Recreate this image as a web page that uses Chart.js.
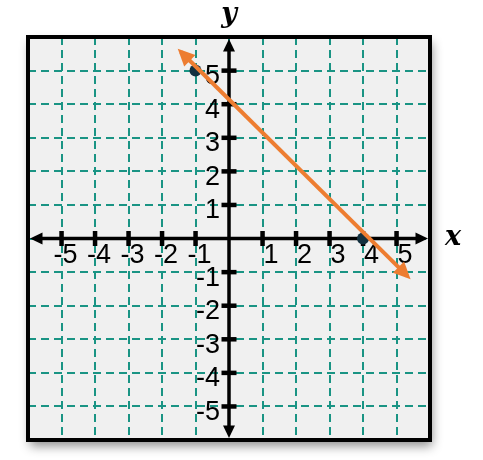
<!DOCTYPE html>
<html><head><meta charset="utf-8">
<script src="https://cdn.jsdelivr.net/npm/chart.js@4.4.0/dist/chart.umd.min.js"></script>
<style>html,body{margin:0;padding:0;background:#fff;} canvas{display:block;}</style>
</head><body>
<canvas id="c" width="483" height="460"></canvas>
<script>
// ---- data ----
const xRange = [-6, 6];
const yRange = [-6, 6];
const xTickValues = [-5, -4, -3, -2, -1, 1, 2, 3, 4, 5];
const xTickLabels = ['-5', '-4', '-3', '-2', '-1', '1', '2', '3', '4', '5'];
const yTickValues = [-5, -4, -3, -2, -1, 1, 2, 3, 4, 5];
const yTickLabels = ['-5', '-4', '-3', '-2', '-1', '1', '2', '3', '4', '5'];
const lineX = [-1.53, 5.42];
const lineY = [5.65, -1.21];
const pointX = [-1, 4];
const pointY = [5, 0];
const axisTitles = ['x', 'y'];
const axisExtent = 5.94;

function arrowHead(ctx, tx, ty, ux, uy, len, hw) {
  const bx = tx - ux * len, by = ty - uy * len;
  const px = -uy, py = ux;
  ctx.beginPath();
  ctx.moveTo(tx, ty);
  ctx.lineTo(bx + px * hw, by + py * hw);
  ctx.lineTo(bx - px * hw, by - py * hw);
  ctx.closePath();
  ctx.fill();
}

const decor = {
  id: 'decor',
  beforeDraw(chart) {
    const {ctx, chartArea: a} = chart;
    ctx.save();
    ctx.fillStyle = '#fff';
    ctx.fillRect(0, 0, chart.width, chart.height);
    ctx.shadowColor = 'rgba(0,0,0,0.45)';
    ctx.shadowBlur = 10;
    ctx.shadowOffsetX = 2;
    ctx.shadowOffsetY = 6;
    ctx.fillStyle = '#f0f0f0';
    ctx.fillRect(a.left, a.top, a.right - a.left, a.bottom - a.top);
    ctx.restore();
  },
  beforeDatasetsDraw(chart) {
    const {ctx, chartArea: a, scales: {x, y}} = chart;
    ctx.save();
    ctx.strokeStyle = '#000';
    ctx.lineWidth = 4;
    ctx.strokeRect(a.left, a.top, a.right - a.left, a.bottom - a.top);
    const x0 = x.getPixelForValue(0), y0 = y.getPixelForValue(0);
    const xl = x.getPixelForValue(-axisExtent), xr = x.getPixelForValue(axisExtent);
    const yt = y.getPixelForValue(axisExtent), yb = y.getPixelForValue(-axisExtent);
    ctx.lineWidth = 3.5;
    ctx.beginPath();
    ctx.moveTo(xl + 8, y0); ctx.lineTo(xr - 8, y0);
    ctx.moveTo(x0, yt + 8); ctx.lineTo(x0, yb - 8);
    ctx.stroke();
    ctx.fillStyle = '#000';
    arrowHead(ctx, xl, y0, -1, 0, 12.5, 6);
    arrowHead(ctx, xr, y0, 1, 0, 12.5, 6);
    arrowHead(ctx, x0, yt, 0, -1, 12.5, 6);
    arrowHead(ctx, x0, yb, 0, 1, 12.5, 6);
    // tick marks
    xTickValues.forEach(v => {
      const p = x.getPixelForValue(v);
      ctx.fillRect(p - 2.2, y0 - 7.5, 4.5, 15);
    });
    yTickValues.forEach(v => {
      const p = y.getPixelForValue(v);
      ctx.fillRect(x0 - 7.5, p - 2.2, 15, 4.5);
    });
    // tick labels
    ctx.font = '27px "Liberation Sans Narrow", "Liberation Sans", Arial, sans-serif';
    ctx.textBaseline = 'middle';
    ctx.textAlign = 'right';
    xTickValues.forEach((v, i) => {
      const p = x.getPixelForValue(v);
      ctx.fillText(xTickLabels[i], p + 16, y0 + 17);
    });
    yTickValues.forEach((v, i) => {
      const p = y.getPixelForValue(v);
      ctx.fillText(yTickLabels[i], x0 - 9, p + 6);
    });
    // axis titles
    ctx.font = 'bold italic 27px "DejaVu Serif", serif';
    ctx.textAlign = 'center';
    ctx.fillText(axisTitles[0], a.right + 23, y0 - 1);
    ctx.fillText(axisTitles[1], x0, a.top - 22);
    ctx.restore();
  },
  beforeDatasetDraw(chart, args) {
    if (args.index !== 0) return;
    const {ctx} = chart;
    const pts = chart.getDatasetMeta(0).data;
    ctx.save();
    ctx.beginPath();
    ctx.rect(0, 0, chart.width, chart.height);
    [pts[0], pts[pts.length - 1]].forEach(p => {
      ctx.moveTo(p.x + 5, p.y);
      ctx.arc(p.x, p.y, 5, 0, Math.PI * 2);
    });
    ctx.clip('evenodd');
  },
  afterDatasetDraw(chart, args) {
    if (args.index !== 0) return;
    const {ctx} = chart;
    ctx.restore();
    const pts = chart.getDatasetMeta(0).data;
    const p0 = pts[0], p1 = pts[pts.length - 1];
    const dx = p1.x - p0.x, dy = p1.y - p0.y, d = Math.hypot(dx, dy);
    const ux = dx / d, uy = dy / d;
    ctx.save();
    ctx.fillStyle = '#ed7d31';
    arrowHead(ctx, p1.x, p1.y, ux, uy, 17, 8);
    arrowHead(ctx, p0.x, p0.y, -ux, -uy, 17, 8);
    ctx.restore();
  }
};

new Chart(document.getElementById('c'), {
  type: 'scatter',
  data: {
    datasets: [
      {
        type: 'line',
        data: lineX.map((v, i) => ({x: v, y: lineY[i]})),
        borderColor: '#ed7d31',
        borderWidth: 4,
        pointRadius: 0,
        fill: false,
        tension: 0,
        borderCapStyle: 'butt'
      },
      {
        type: 'scatter',
        data: pointX.map((v, i) => ({x: v, y: pointY[i]})),
        pointRadius: 6,
        backgroundColor: '#12303f',
        borderWidth: 0
      }
    ]
  },
  options: {
    responsive: false,
    animation: false,
    devicePixelRatio: 1,
    layout: {padding: {left: 28, right: 53, top: 37, bottom: 20}},
    plugins: {legend: {display: false}, tooltip: {enabled: false}},
    scales: {
      x: {
        type: 'linear', min: xRange[0], max: xRange[1],
        ticks: {display: false, stepSize: 1},
        grid: {color: '#1a9484', lineWidth: 2, drawTicks: false},
        border: {display: false, dash: [8, 5]}
      },
      y: {
        type: 'linear', min: yRange[0], max: yRange[1],
        ticks: {display: false, stepSize: 1},
        grid: {color: '#1a9484', lineWidth: 2, drawTicks: false},
        border: {display: false, dash: [8, 5]}
      }
    }
  },
  plugins: [decor]
});
</script>
</body></html>
